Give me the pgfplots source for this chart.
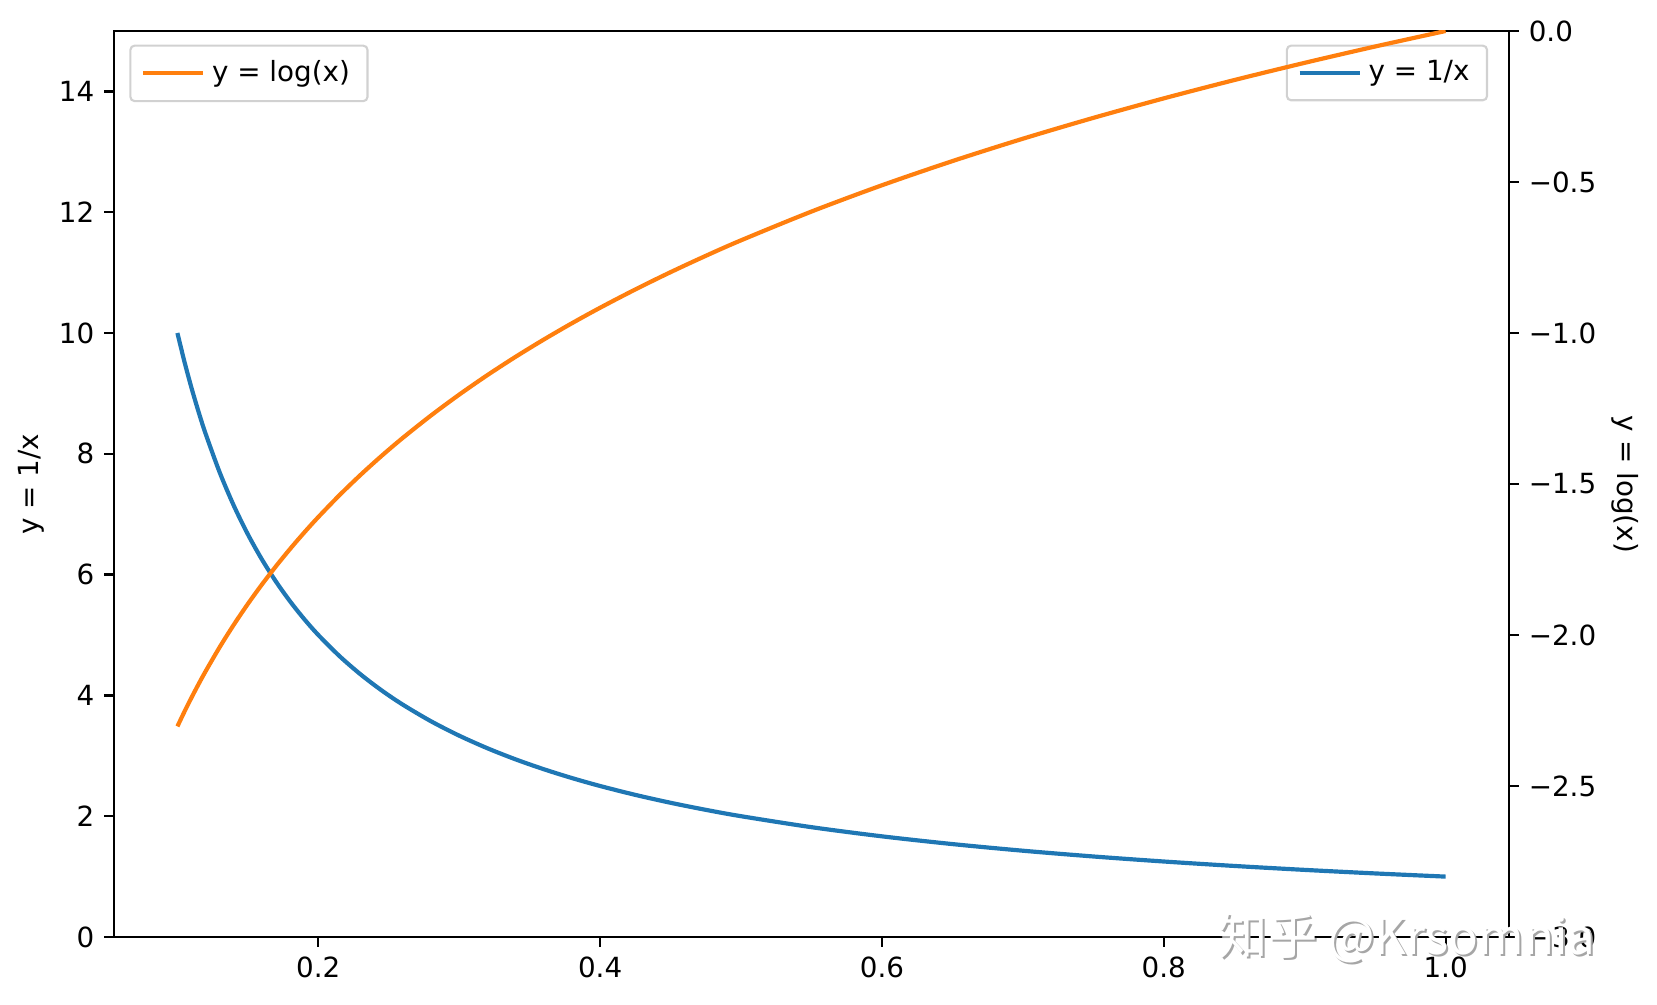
\documentclass[border=0pt]{standalone}
\usepackage{pgfplots}
\pgfplotsset{compat=1.18}
\usepackage{fontspec}
\setmainfont{DejaVu Sans}
\newfontfamily\cjk{Noto Sans CJK SC}
\definecolor{mblue}{HTML}{1F77B4}
\definecolor{morange}{HTML}{FF7F0E}
\pgfplotsset{
  common/.style={
    scale only axis, width=13.95cm, height=9.06cm,
    xmin=0.055, xmax=1.045,
    axis line style={line width=0.63pt},
    every tick/.style={black, line width=0.63pt},
    major tick length=2.8pt,
    tick align=outside,
    /pgf/number format/assume math mode=true,
    tick label style={font=\fontsize{7.9}{9.5}\selectfont},
    label style={font=\fontsize{7.9}{9.5}\selectfont},
    legend style={font=\fontsize{7.9}{9.5}\selectfont, draw=black!18, rounded corners=1.2pt, line width=0.6pt, inner xsep=3pt, inner ysep=2.3pt},
    legend cell align=left,
    legend image code/.code={\draw[##1] (0cm,0cm) -- (0.6cm,0cm);},
  }
}
\begin{document}
\fontsize{7.9}{9.5}\selectfont
\begin{tikzpicture}
\begin{axis}[common, name=ax,
  ymin=0, ymax=15,
  xtick={0.2,0.4,0.6,0.8,1.0},
  xticklabels={0.2,0.4,0.6,0.8,1.0},
  ytick={0,2,4,6,8,10,12,14},
  yticklabels={0,2,4,6,8,10,12,14},
  xtick pos=bottom, ytick pos=left,
  ylabel={y = 1/x},
  ylabel style={yshift=-0.05cm},
  legend style={at={(0.985,0.985)}, anchor=north east},
]
\addplot[mblue, line width=1.19pt, smooth] coordinates {
(0.100,10) (0.105,9.5238) (0.110,9.0909) (0.115,8.6957) (0.120,8.3333) (0.130,7.6923)
(0.140,7.1429) (0.150,6.6667) (0.160,6.25) (0.170,5.8824) (0.180,5.5556) (0.190,5.2632)
(0.200,5) (0.215,4.6512) (0.230,4.3478) (0.245,4.0816) (0.260,3.8462) (0.280,3.5714)
(0.300,3.3333) (0.320,3.125) (0.340,2.9412) (0.360,2.7778) (0.380,2.6316) (0.400,2.5)
(0.425,2.3529) (0.450,2.2222) (0.475,2.1053) (0.500,2) (0.550,1.8182) (0.600,1.6667)
(0.650,1.5385) (0.700,1.4286) (0.750,1.3333) (0.800,1.25) (0.850,1.1765)
(0.900,1.1111) (0.950,1.0526) (1.000,1)
};
\addlegendentry{y = 1/x}
\end{axis}
\begin{axis}[common,
  ymin=-3, ymax=0,
  axis x line=none,
  axis y line*=right,
  ytick={-3,-2.5,-2,-1.5,-1,-0.5,0},
  yticklabels={−3.0,−2.5,−2.0,−1.5,−1.0,−0.5,0.0},
  ylabel={y = log(x)},
  ylabel style={rotate=180, yshift=-0.04cm},
  legend style={at={(0.011,0.985)}, anchor=north west},
]
\addplot[morange, line width=1.19pt, smooth] coordinates {
(0.100,-2.3026) (0.105,-2.2538) (0.110,-2.2073) (0.115,-2.1628) (0.120,-2.1203)
(0.130,-2.0402) (0.140,-1.9661) (0.150,-1.8971) (0.160,-1.8326) (0.170,-1.7720)
(0.180,-1.7148) (0.190,-1.6607) (0.200,-1.6094) (0.215,-1.5371) (0.230,-1.4697)
(0.245,-1.4065) (0.260,-1.3471) (0.280,-1.2730) (0.300,-1.2040) (0.320,-1.1394)
(0.340,-1.0788) (0.360,-1.0217) (0.380,-0.9676) (0.400,-0.9163) (0.425,-0.8557)
(0.450,-0.7985) (0.475,-0.7444) (0.500,-0.6931) (0.550,-0.5978) (0.600,-0.5108)
(0.650,-0.4308) (0.700,-0.3567) (0.750,-0.2877) (0.800,-0.2231) (0.850,-0.1625)
(0.900,-0.1054) (0.950,-0.0513) (1.000,0)
};
\addlegendentry{y = log(x)}
\end{axis}
\node[anchor=west, text=gray!70, font=\cjk\fontsize{14}{16}\selectfont] at ([xshift=10.97cm, yshift=-0.03cm]ax.south west) {知乎 @Krsomnia};
\node[anchor=west, text=white, font=\cjk\fontsize{14}{16}\selectfont] at ([xshift=10.95cm, yshift=-0.01cm]ax.south west) {知乎 @Krsomnia};
\pgfresetboundingbox
\path ([xshift=-1.14cm, yshift=-0.67cm]ax.south west) rectangle ([xshift=1.48cm, yshift=0.31cm]ax.north east);
\end{tikzpicture}
\end{document}
